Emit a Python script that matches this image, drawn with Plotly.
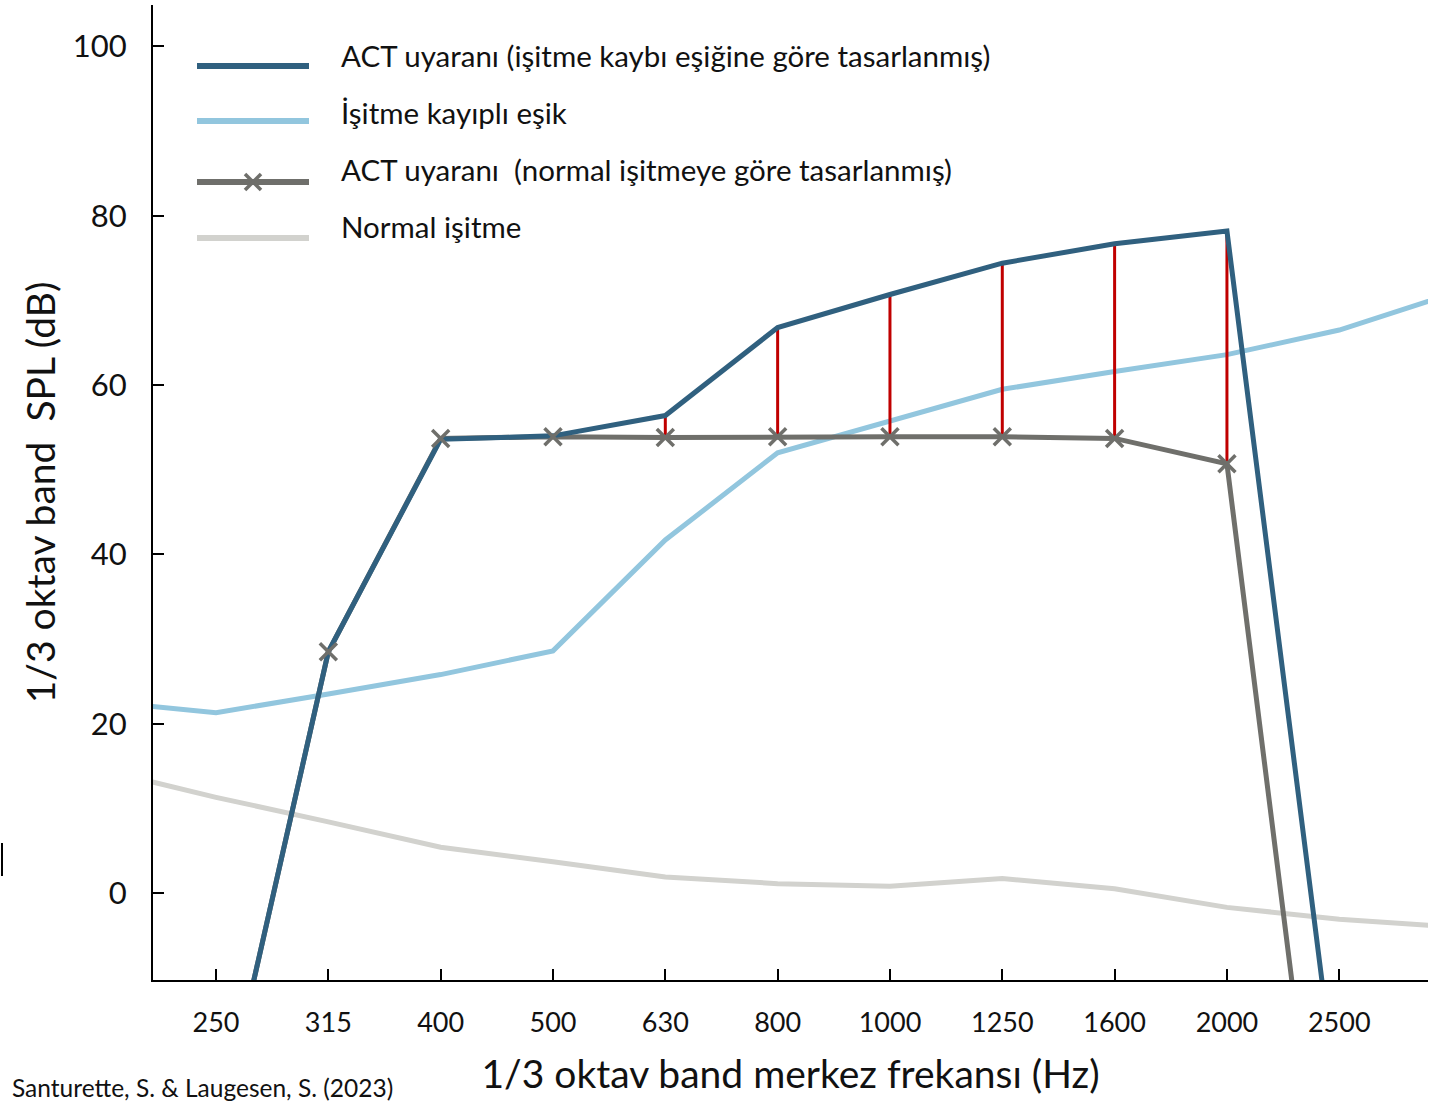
import plotly.graph_objects as go

# ---- data ----
bands = ["200", "250", "315", "400", "500", "630", "800", "1000", "1250", "1600", "2000", "2500", "3150"]
tick_labels = ["250", "315", "400", "500", "630", "800", "1000", "1250", "1600", "2000", "2500"]

act_hl = [None, -30, 28.5, 53.6, 54.0, 56.4, 66.8, 70.7, 74.4, 76.7, 78.2, -26.5, None]
hl_threshold = [22.6, 21.3, 23.5, 25.8, 28.6, 41.7, 52.0, 55.7, 59.5, 61.6, 63.6, 66.5, 70.8]
act_nh = [None, -30, 28.5, 53.7, 53.9, 53.8, 53.9, 53.9, 53.9, 53.7, 50.7, -55, None]
normal = [14.5, 11.3, 8.4, 5.4, 3.7, 1.9, 1.1, 0.8, 1.7, 0.5, -1.7, -3.1, -4.0]
red_bands = ["630", "800", "1000", "1250", "1600", "2000"]

idx = {b: i - 1 for i, b in enumerate(bands)}  # 250 -> 0
xs = [idx[b] for b in bands]

C_DARK = "#30607f"
C_LIGHT = "#92c6de"
C_GRAY = "#6f6f6b"
C_LGRAY = "#d2d2ce"
C_RED = "#c00000"
FONT = "Lato"

fig = go.Figure()

fig.add_trace(go.Scatter(x=xs, y=normal, mode="lines", line=dict(color=C_LGRAY, width=5),
                         name="Normal işitme", showlegend=False))
fig.add_trace(go.Scatter(x=xs, y=hl_threshold, mode="lines", line=dict(color=C_LIGHT, width=5),
                         name="İşitme kayıplı eşik", showlegend=False))
fig.add_trace(go.Scatter(x=xs, y=act_nh, mode="lines", line=dict(color=C_GRAY, width=5),
                         name="ACT uyaranı  (normal işitmeye göre tasarlanmış)", showlegend=False))

# red difference lines
rx, ry = [], []
for b in red_bands:
    i = bands.index(b)
    rx += [xs[i], xs[i], None]
    ry += [act_nh[i], act_hl[i], None]
fig.add_trace(go.Scatter(x=rx, y=ry, mode="lines", line=dict(color=C_RED, width=3),
                         showlegend=False, hoverinfo="skip"))

fig.add_trace(go.Scatter(x=xs, y=act_hl, mode="lines", line=dict(color=C_DARK, width=5),
                         name="ACT uyaranı (işitme kaybı eşiğine göre tasarlanmış)", showlegend=False))

# markers of the normal-hearing ACT stimulus
mk_x = [xs[i] for i in range(len(bands)) if bands[i] in tick_labels[1:10]]
mk_y = [act_nh[i] for i in range(len(bands)) if bands[i] in tick_labels[1:10]]
fig.add_trace(go.Scatter(x=mk_x, y=mk_y, mode="markers",
                         marker=dict(symbol="x-thin", size=17, line=dict(color=C_GRAY, width=3.5)),
                         showlegend=False))

# ---- manual legend (page-pixel positions converted to paper coords) ----
W, H = 1444, 1103
L, R, T, B = 153, 16, 5, 123
pw, ph = W - L - R, H - T - B
def ppx(x): return (x - L) / pw
def ppy(y): return (H - B - y) / ph

legend_items = [
    ("ACT uyaranı (işitme kaybı eşiğine göre tasarlanmış)", C_DARK, False),
    ("İşitme kayıplı eşik", C_LIGHT, False),
    ("ACT uyaranı  (normal işitmeye göre tasarlanmış)", C_GRAY, True),
    ("Normal işitme", C_LGRAY, False),
]
shapes = []
annotations = []
ly = [66, 121, 182, 238]
ty = [56, 113, 170, 227]
for (txt, col, cross), yl, yt in zip(legend_items, ly, ty):
    shapes.append(dict(type="line", xref="paper", yref="paper", x0=ppx(197), x1=ppx(309),
                       y0=ppy(yl), y1=ppy(yl), line=dict(color=col, width=6)))
    if cross:
        for d in (1, -1):
            shapes.append(dict(type="line", xref="paper", yref="paper",
                               x0=ppx(245), x1=ppx(261), y0=ppy(yl - 8 * d), y1=ppy(yl + 8 * d),
                               line=dict(color=col, width=3.5)))
    annotations.append(dict(text=txt, xref="paper", yref="paper", x=ppx(339), y=ppy(yt),
                            xanchor="left", yanchor="middle", showarrow=False,
                            font=dict(family=FONT, size=29.5, color="#111111")))

annotations.append(dict(text="Santurette, S. & Laugesen, S. (2023)", xref="paper", yref="paper",
                        x=ppx(10), y=ppy(1087), xanchor="left", yanchor="middle", showarrow=False,
                        font=dict(family=FONT, size=24.5, color="#111111")))
shapes.append(dict(type="line", xref="paper", yref="paper", x0=ppx(2), x1=ppx(2),
                   y0=ppy(843), y1=ppy(876), line=dict(color="black", width=2)))

fig.update_layout(
    width=W, height=H,
    margin=dict(l=L, r=R, t=T, b=B),
    plot_bgcolor="white", paper_bgcolor="white",
    font=dict(family=FONT, color="#111111"),
    showlegend=False,
    shapes=shapes, annotations=annotations,
    xaxis=dict(range=[-0.561, 10.79], tickmode="array", tickvals=list(range(11)),
               ticktext=tick_labels, ticks="inside", ticklen=11, tickwidth=2, tickcolor="black",
               showline=True, linecolor="black", linewidth=2, showgrid=False, zeroline=False,
               tickfont=dict(size=27), ticklabelstandoff=18,
               title=dict(text="1/3 oktav band merkez frekansı (Hz)", font=dict(size=39), standoff=23)),
    yaxis=dict(range=[-10.28, 104.9], tickvals=[0, 20, 40, 60, 80, 100],
               ticks="inside", ticklen=11, tickwidth=2, tickcolor="black",
               showline=True, linecolor="black", linewidth=2, showgrid=False, zeroline=False,
               tickfont=dict(size=31), ticklabelstandoff=18,
               title=dict(text="1/3 oktav band  SPL (dB)", font=dict(size=39), standoff=5)),
)

fig.write_html("out.html", config={"displayModeBar": False},
               post_script="document.body.style.margin='0';document.body.style.padding='0';")
